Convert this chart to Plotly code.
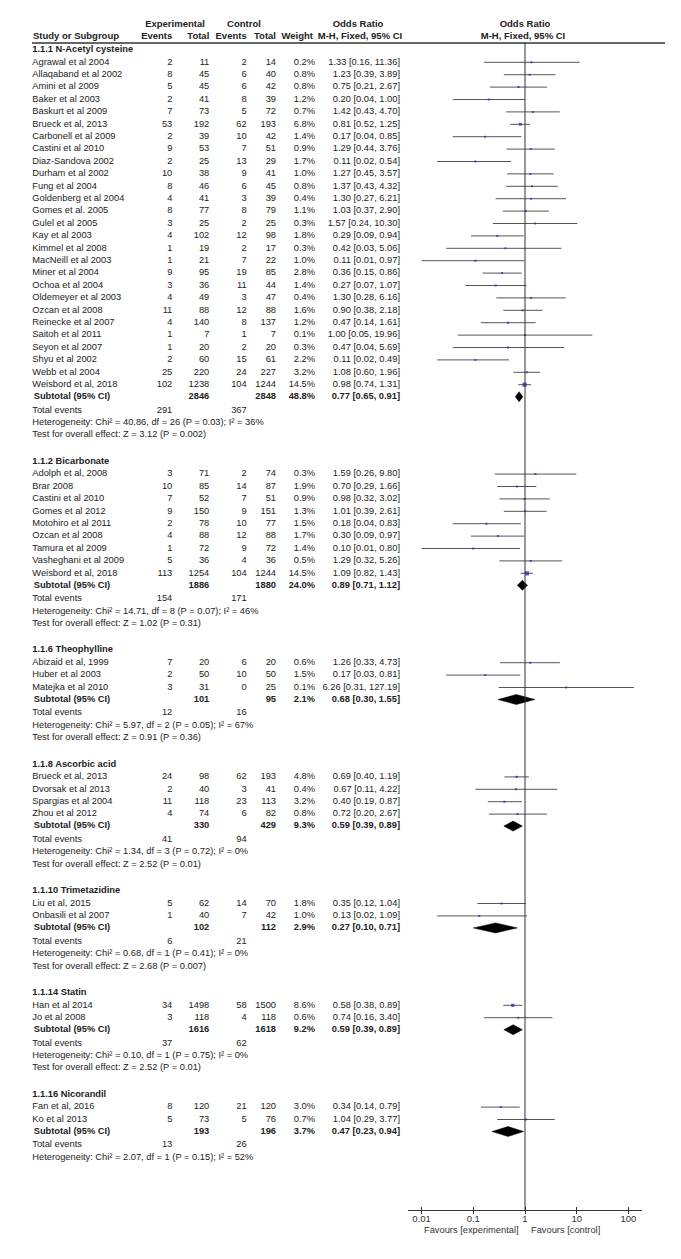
import plotly.graph_objects as go

# ---- data ----
groups = ["1.1.1 N-Acetyl cysteine", "1.1.2 Bicarbonate", "1.1.6 Theophylline",
          "1.1.8 Ascorbic acid", "1.1.10 Trimetazidine", "1.1.14 Statin", "1.1.16 Nicorandil"]
group_sizes = [27, 9, 3, 4, 2, 2, 2]

studies = [
    "Agrawal et al 2004", "Allaqaband et al 2002", "Amini et al 2009", "Baker et al 2003",
    "Baskurt et al 2009", "Brueck et al, 2013", "Carbonell et al 2009", "Castini et al 2010",
    "Diaz-Sandova 2002", "Durham et al 2002", "Fung et al 2004", "Goldenberg et al 2004",
    "Gomes et al. 2005", "Gulel et al 2005", "Kay et al 2003", "Kimmel et al 2008",
    "MacNeill et al 2003", "Miner et al 2004", "Ochoa et al 2004", "Oldemeyer et al 2003",
    "Ozcan et al 2008", "Reinecke et al 2007", "Saitoh et al 2011", "Seyon et al 2007",
    "Shyu et al 2002", "Webb et al 2004", "Weisbord et al, 2018",
    "Adolph et al, 2008", "Brar 2008", "Castini et al 2010", "Gomes et al 2012",
    "Motohiro et al 2011", "Ozcan et al 2008", "Tamura et al 2009", "Vasheghani et al 2009",
    "Weisbord et al, 2018",
    "Abizaid et al, 1999", "Huber et al 2003", "Matejka et al 2010",
    "Brueck et al, 2013", "Dvorsak et al 2013", "Spargias et al 2004", "Zhou et al 2012",
    "Liu et al, 2015", "Onbasili et al 2007",
    "Han et al 2014", "Jo et al 2008",
    "Fan et al, 2016", "Ko et al 2013",
]
exp_events = [2, 8, 5, 2, 7, 53, 2, 9, 2, 10, 8, 4, 8, 3, 4, 1, 1, 9, 3, 4, 11, 4, 1, 1, 2, 25, 102,
              3, 10, 7, 9, 2, 4, 1, 5, 113,
              7, 2, 3,
              24, 2, 11, 4,
              5, 1,
              34, 3,
              8, 5]
exp_total = [11, 45, 45, 41, 73, 192, 39, 53, 25, 38, 46, 41, 77, 25, 102, 19, 21, 95, 36, 49, 88, 140, 7, 20, 60, 220, 1238,
             71, 85, 52, 150, 78, 88, 72, 36, 1254,
             20, 50, 31,
             98, 40, 118, 74,
             62, 40,
             1498, 118,
             120, 73]
ctl_events = [2, 6, 6, 8, 5, 62, 10, 7, 13, 9, 6, 3, 8, 2, 12, 2, 7, 19, 11, 3, 12, 8, 1, 2, 15, 24, 104,
              2, 14, 7, 9, 10, 12, 9, 4, 104,
              6, 10, 0,
              62, 3, 23, 6,
              14, 7,
              58, 4,
              21, 5]
ctl_total = [14, 40, 42, 39, 72, 193, 42, 51, 29, 41, 45, 39, 79, 25, 98, 17, 22, 85, 44, 47, 88, 137, 7, 20, 61, 227, 1244,
             74, 87, 51, 151, 77, 88, 72, 36, 1244,
             20, 50, 25,
             193, 41, 113, 82,
             70, 42,
             1500, 118,
             120, 76]
weights = [0.2, 0.8, 0.8, 1.2, 0.7, 6.8, 1.4, 0.9, 1.7, 1.0, 0.8, 0.4, 1.1, 0.3, 1.8, 0.3, 1.0, 2.8, 1.4, 0.4, 1.6, 1.2, 0.1, 0.3, 2.2, 3.2, 14.5,
           0.3, 1.9, 0.9, 1.3, 1.5, 1.7, 1.4, 0.5, 14.5,
           0.6, 1.5, 0.1,
           4.8, 0.4, 3.2, 0.8,
           1.8, 1.0,
           8.6, 0.6,
           3.0, 0.7]
odds = [1.33, 1.23, 0.75, 0.20, 1.42, 0.81, 0.17, 1.29, 0.11, 1.27, 1.37, 1.30, 1.03, 1.57, 0.29, 0.42, 0.11, 0.36, 0.27, 1.30, 0.90, 0.47, 1.00, 0.47, 0.11, 1.08, 0.98,
        1.59, 0.70, 0.98, 1.01, 0.18, 0.30, 0.10, 1.29, 1.09,
        1.26, 0.17, 6.26,
        0.69, 0.67, 0.40, 0.72,
        0.35, 0.13,
        0.58, 0.74,
        0.34, 1.04]
ci_low = [0.16, 0.39, 0.21, 0.04, 0.43, 0.52, 0.04, 0.44, 0.02, 0.45, 0.43, 0.27, 0.37, 0.24, 0.09, 0.03, 0.01, 0.15, 0.07, 0.28, 0.38, 0.14, 0.05, 0.04, 0.02, 0.60, 0.74,
          0.26, 0.29, 0.32, 0.39, 0.04, 0.09, 0.01, 0.32, 0.82,
          0.33, 0.03, 0.31,
          0.40, 0.11, 0.19, 0.20,
          0.12, 0.02,
          0.38, 0.16,
          0.14, 0.29]
ci_high = [11.36, 3.89, 2.67, 1.00, 4.70, 1.25, 0.85, 3.76, 0.54, 3.57, 4.32, 6.21, 2.90, 10.30, 0.94, 5.06, 0.97, 0.86, 1.07, 6.16, 2.18, 1.61, 19.96, 5.69, 0.49, 1.96, 1.31,
           9.80, 1.66, 3.02, 2.61, 0.83, 0.97, 0.80, 5.26, 1.43,
           4.73, 0.81, 127.19,
           1.19, 4.22, 0.87, 2.67,
           1.04, 1.09,
           0.89, 3.40,
           0.79, 3.77]

sub_exp_total = [2846, 1886, 101, 330, 102, 1616, 193]
sub_ctl_total = [2848, 1880, 95, 429, 112, 1618, 196]
sub_weight = [48.8, 24.0, 2.1, 9.3, 2.9, 9.2, 3.7]
sub_or = [0.77, 0.89, 0.68, 0.59, 0.27, 0.59, 0.47]
sub_low = [0.65, 0.71, 0.30, 0.39, 0.10, 0.39, 0.23]
sub_high = [0.91, 1.12, 1.55, 0.89, 0.71, 0.89, 0.94]
sub_exp_events = [291, 154, 12, 41, 6, 37, 13]
sub_ctl_events = [367, 171, 16, 94, 21, 62, 26]
het_chi2 = ["40.86", "14.71", "5.97", "1.34", "0.68", "0.10", "2.07"]
het_df = [26, 8, 2, 3, 1, 1, 1]
het_p = ["0.03", "0.07", "0.05", "0.72", "0.41", "0.75", "0.15"]
het_i2 = [36, 46, 67, 0, 0, 0, 52]
test_z = ["3.12", "1.02", "0.91", "2.52", "2.68", "2.52", None]
test_p = ["0.002", "0.31", "0.36", "0.01", "0.007", "0.01", None]

tick_vals = [0.01, 0.1, 1, 10, 100]
tick_text = ["0.01", "0.1", "1", "10", "100"]

# ---- layout constants (page pixels; the page body adds an 8px margin) ----
W, H = 681, 1259
OFF = 8
FW, FH = W - 2 * OFF, H - 2 * OFF
AXIS_Y = 1210
STEP = 12.4
FONT = "Liberation Sans, Arial, sans-serif"
INK = "#222222"

# column anchors
X_NAME, X_EE, X_ET, X_CE, X_CT, X_W, X_OR = 32.3, 172.3, 209.3, 246.7, 276, 315, 400

tx, ty, ts, tp = [], [], [], []


def put(x, y, s, pos="middle right", bold=False):
    tx.append(x)
    ty.append(y)
    ts.append("<b>%s</b>" % s if bold else s)
    tp.append(pos)


ci_x, ci_y = [], []
sq_x, sq_y, sq_s = [], [], []
dia_x, dia_y = [], []

y = 49.7
k = 0
for g, gname in enumerate(groups):
    put(X_NAME, y, gname, bold=True)
    y += 12.6
    for i in range(k, k + group_sizes[g]):
        put(X_NAME, y, studies[i])
        put(X_EE, y, str(exp_events[i]), "middle left")
        put(X_ET, y, str(exp_total[i]), "middle left")
        put(X_CE, y, str(ctl_events[i]), "middle left")
        put(X_CT, y, str(ctl_total[i]), "middle left")
        put(X_W, y, "%.1f%%" % weights[i], "middle left")
        put(X_OR, y, "%.2f [%.2f, %.2f]" % (odds[i], ci_low[i], ci_high[i]), "middle left")
        ci_x += [ci_low[i], ci_high[i], None]
        ci_y += [y, y, None]
        sq_x.append(odds[i])
        sq_y.append(y)
        sq_s.append(max(2.0, 1.1 * weights[i] ** 0.5))
        y += STEP
    k += group_sizes[g]
    y += 12 - STEP

    # subtotal row
    put(X_NAME + 1.4, y, "Subtotal (95% CI)", bold=True)
    put(X_ET, y, str(sub_exp_total[g]), "middle left", bold=True)
    put(X_CT, y, str(sub_ctl_total[g]), "middle left", bold=True)
    put(X_W, y, "%.1f%%" % sub_weight[g], "middle left", bold=True)
    put(X_OR, y, "%.2f [%.2f, %.2f]" % (sub_or[g], sub_low[g], sub_high[g]), "middle left", bold=True)
    dia_x += [sub_low[g], sub_or[g], sub_high[g], sub_or[g], sub_low[g], None]
    dia_y += [y, y - 5, y, y + 5, y, None]

    y += 13.5
    put(X_NAME, y, "Total events")
    put(X_EE, y, str(sub_exp_events[g]), "middle left")
    put(X_CE, y, str(sub_ctl_events[g]), "middle left")
    y += STEP
    put(X_NAME, y, "Heterogeneity: Chi² = %s, df = %d (P = %s); I² = %d%%"
        % (het_chi2[g], het_df[g], het_p[g], het_i2[g]))
    if test_z[g] is not None:
        y += STEP
        put(X_NAME, y, "Test for overall effect: Z = %s (P = %s)" % (test_z[g], test_p[g]))
    y += 26.5

# header text
HEAD1, HEAD2, HEAD_LINE = 25, 37, 43
hx, hy, hs, hp = [], [], [], []
for x, yy, s, p in [
    (175, HEAD1, "Experimental", "middle center"),
    (244, HEAD1, "Control", "middle center"),
    (358, HEAD1, "Odds Ratio", "middle center"),
    (525, HEAD1, "Odds Ratio", "middle center"),
    (33, HEAD2, "Study or Subgroup", "middle right"),
    (X_EE, HEAD2, "Events", "middle left"),
    (X_ET, HEAD2, "Total", "middle left"),
    (X_CE, HEAD2, "Events", "middle left"),
    (X_CT, HEAD2, "Total", "middle left"),
    (313, HEAD2, "Weight", "middle left"),
    (360, HEAD2, "M-H, Fixed, 95% CI", "middle center"),
    (523, HEAD2, "M-H, Fixed, 95% CI", "middle center"),
]:
    hx.append(x)
    hy.append(yy)
    hs.append("<b>%s</b>" % s)
    hp.append(p)

fig = go.Figure()

# forest marks on the log axis
fig.add_trace(go.Scatter(x=ci_x, y=ci_y, mode="lines", xaxis="x", yaxis="y",
                         line=dict(color="#555555", width=1), hoverinfo="skip"))
fig.add_trace(go.Scatter(x=sq_x, y=sq_y, mode="markers", xaxis="x", yaxis="y",
                         marker=dict(symbol="square", size=sq_s, color="#1f1fbf", line=dict(width=0)),
                         hoverinfo="skip"))
fig.add_trace(go.Scatter(x=dia_x, y=dia_y, mode="lines", fill="toself", xaxis="x", yaxis="y",
                         fillcolor="black", line=dict(color="black", width=0.5), hoverinfo="skip"))
fig.add_trace(go.Scatter(x=[1], y=[None], xaxis="x3", yaxis="y", hoverinfo="skip"))

# table text
fig.add_trace(go.Scatter(x=tx, y=ty, text=ts, textposition=tp, mode="text", xaxis="x2", yaxis="y2",
                         textfont=dict(family=FONT, size=9.3, color=INK), hoverinfo="skip"))
fig.add_trace(go.Scatter(x=hx, y=hy, text=hs, textposition=hp, mode="text", xaxis="x2", yaxis="y2",
                         textfont=dict(family=FONT, size=9.5, color=INK), hoverinfo="skip"))

fig.add_shape(type="line", xref="x2", yref="y2", x0=32, x1=665, y0=HEAD_LINE, y1=HEAD_LINE,
              line=dict(color="#333333", width=1.5))
fig.add_shape(type="line", xref="x", yref="y", x0=1, x1=1, y0=HEAD_LINE, y1=AXIS_Y,
              line=dict(color="#333333", width=1))

ydom = [(FH - (AXIS_Y - OFF)) / FH, 1]
xrange_log = [-2.257, 2.257]
fig.update_layout(
    width=FW, height=FH, margin=dict(l=0, r=0, t=0, b=0),
    paper_bgcolor="white", plot_bgcolor="rgba(0,0,0,0)",
    showlegend=False, hovermode=False,
    font=dict(family=FONT, size=9, color=INK),
    xaxis=dict(domain=[(408.3 - OFF) / FW, (641.7 - OFF) / FW], type="log", range=xrange_log,
               tickvals=tick_vals, ticktext=tick_text, ticks="inside", ticklen=3,
               tickcolor="#333333", showline=True, linecolor="#333333", linewidth=1,
               showgrid=False, zeroline=False, tickfont=dict(size=9.5, color="#333333"),
               anchor="y"),
    xaxis3=dict(overlaying="x", type="log", range=xrange_log, tickvals=tick_vals,
                ticks="outside", ticklen=3, tickcolor="#333333", showticklabels=False,
                showline=False, showgrid=False, zeroline=False, anchor="y"),
    yaxis=dict(domain=ydom, range=[AXIS_Y, OFF], visible=False, anchor="x"),
    xaxis2=dict(domain=[0, 1], range=[OFF, OFF + FW], visible=False, anchor="y2"),
    yaxis2=dict(domain=ydom, range=[AXIS_Y, OFF], visible=False, anchor="x2"),
)

fig.add_annotation(text="Favours [experimental]", xref="paper", yref="paper",
                   x=(521 - OFF) / FW, y=1 - (1230 - OFF) / FH, xanchor="right", yanchor="middle",
                   showarrow=False, font=dict(size=9.3, color="#333333"))
fig.add_annotation(text="Favours [control]", xref="paper", yref="paper",
                   x=(529 - OFF) / FW, y=1 - (1230 - OFF) / FH, xanchor="left", yanchor="middle",
                   showarrow=False, font=dict(size=9.3, color="#333333"))

fig.write_html("out.html")
